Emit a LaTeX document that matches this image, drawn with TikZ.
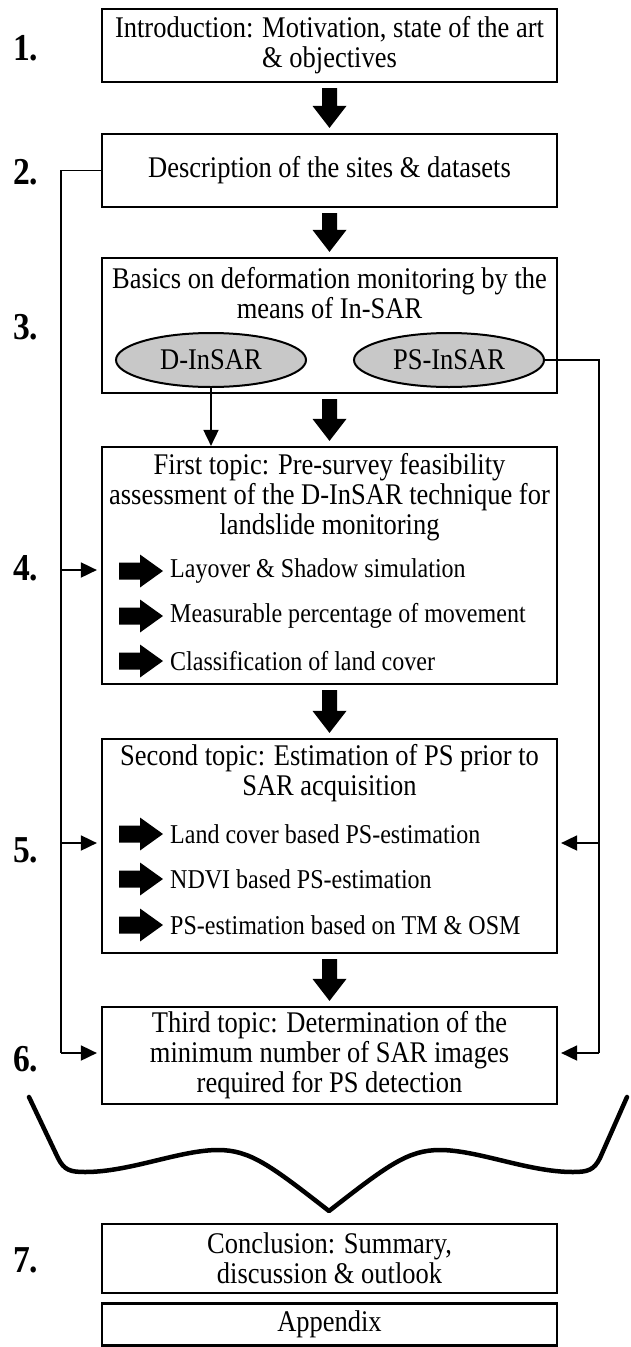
\documentclass[tikz,border=0pt]{standalone}
\usepackage{fontspec}
\setmainfont{Liberation Serif}
\newfontfamily\condfont[FakeStretch=0.883]{Liberation Serif}
\usetikzlibrary{arrows.meta,calc,shapes.geometric}
\newcommand\boxfont{\condfont\fontsize{30}{30}\selectfont}
\newcommand\itemfont{\condfont\fontsize{27.2}{28}\selectfont}
\newcommand\numfont{\condfont\bfseries\fontsize{38}{38}\selectfont}
\definecolor{ellgray}{RGB}{200,200,200}
\begin{document}
\begin{tikzpicture}[x=1pt,y=-1pt,
  box/.style={draw=black, line width=2.2pt, minimum width=455pt, inner sep=0pt, align=center, font=\boxfont},
  title/.style={inner sep=0pt, align=center, font=\boxfont},
  itemtext/.style={inner sep=0pt, anchor=west, font=\itemfont},
  num/.style={inner sep=0pt, anchor=west, font=\numfont},
  ell/.style={ellipse, draw=black, line width=2pt, fill=ellgray, minimum width=190pt, minimum height=54pt, inner sep=0pt, font=\boxfont},
  conn/.style={draw=black, line width=1.8pt},
  tip/.style={-{Triangle[length=16pt,width=15pt]}},
  bigarrow/.style={fill=black},
  bularrow/.pic={\fill (0,-8.5) -- (21,-8.5) -- (21,-16.5) -- (44,0) -- (21,16.5) -- (21,8.5) -- (0,8.5) -- cycle;}
]
\useasboundingbox (0,0) rectangle (630,1347);
\fill[white] (0,0) rectangle (630,1347);

% numbers
\node[num] (n1) at (13,48) {1.};
\node[num] (n2) at (13,172) {2.};
\node[num] (n3) at (13,327) {3.};
\node[num] (n4) at (13,568) {4.};
\node[num] (n5) at (13,850) {5.};
\node[num] (n6) at (13,1059) {6.};
\node[num] (n7) at (13,1260) {7.};

% boxes
\node[box, minimum height=73pt] (b1) at (329.5,45.5) {Introduction: Motivation, state of the art\\\& objectives};
\node[box, minimum height=73pt] (b2) at (329.5,170.5) {Description of the sites \& datasets};
\node[box, minimum height=135pt] (b3) at (329.5,325.5) {};
\node[title] (t3) at (329.5,293) {Basics on deformation monitoring by the\\means of In-SAR};
\node[ell] (dinsar) at (211,360) {D-InSAR};
\node[ell] (psinsar) at (449,360) {PS-InSAR};

\node[box, minimum height=237pt] (b4) at (329.5,565.5) {};
\node[title] (t4) at (329.5,497) {First topic: Pre-survey feasibility\\assessment of the D-InSAR technique for\\landslide monitoring};
\pic at (119,571) {bularrow};
\node[itemtext] (i41) at (170,571) {Layover \& Shadow simulation};
\pic at (119,616) {bularrow};
\node[itemtext] (i42) at (170,616) {Measurable percentage of movement};
\pic at (119,661) {bularrow};
\node[itemtext] (i43) at (170,661) {Classification of land cover};

\node[box, minimum height=214pt] (b5) at (329.5,846) {};
\node[title] (t5) at (329.5,773) {Second topic: Estimation of PS prior to\\SAR acquisition};
\pic at (119,834) {bularrow};
\node[itemtext] (i51) at (170,834) {Land cover based PS-estimation};
\pic at (119,879) {bularrow};
\node[itemtext] (i52) at (170,879) {NDVI based PS-estimation};
\pic at (119,925) {bularrow};
\node[itemtext] (i53) at (170,925) {PS-estimation based on TM \& OSM};

\node[box, minimum height=97pt] (b6) at (329.5,1055.5) {Third topic: Determination of the\\minimum number of SAR images\\required for PS detection};
\node[box, minimum height=69pt] (b7) at (329.5,1258.5) {Conclusion: Summary,\\discussion \& outlook};
\node[box, minimum height=42pt] (b8) at (329.5,1324.5) {Appendix};

% big down arrows between boxes
\foreach \a/\b in {b1/b2, b2/b3, b3/b4, b4/b5, b5/b6}{
  \coordinate (tip-\b) at ([shift={(0,-5)}]\b.north);
  \fill[bigarrow] ([shift={(-7.5,5)}]\a.south) -- ([shift={(7.5,5)}]\a.south)
    -- ([shift={(7.5,-22)}]tip-\b) -- ([shift={(17,-22)}]tip-\b) -- (tip-\b)
    -- ([shift={(-17,-22)}]tip-\b) -- ([shift={(-7.5,-22)}]tip-\b) -- cycle;
}

% D-InSAR to box 4
\draw[conn, tip] (dinsar.south) -- (dinsar.south |- b4.north);

% left trunk
\coordinate (L4) at (61,570);
\coordinate (L5) at (61,843);
\coordinate (L6) at (61,1053);
\draw[conn] (b2.west) -| (L6);
\draw[conn, tip, shorten >=4pt] (L4) -- (L4 -| b4.west);
\draw[conn, tip, shorten >=4pt] (L5) -- (L5 -| b5.west);
\draw[conn, tip, shorten >=4pt] (L6) -- (L6 -| b6.west);

% right trunk
\coordinate (R5) at (599,843);
\coordinate (R6) at (599,1053);
\draw[conn] (psinsar.east) -| (R6);
\draw[conn, tip, shorten >=3pt] (R5) -- (R5 -| b5.east);
\draw[conn, tip, shorten >=3pt] (R6) -- (R6 -| b6.east);

% brace
\draw[line width=4.5pt, line join=round, line cap=round]
  (29,1097) -- (58,1158) .. controls (64,1170) and (70,1172) .. (85,1172)
  .. controls (130,1172) and (180,1150) .. (218,1150)
  .. controls (250,1150) and (270,1165) .. (329,1211)
  .. controls (388,1165) and (408,1150) .. (440,1150)
  .. controls (478,1150) and (528,1172) .. (573,1172)
  .. controls (588,1172) and (594,1170) .. (600,1158) -- (627,1097);
\end{tikzpicture}
\end{document}
